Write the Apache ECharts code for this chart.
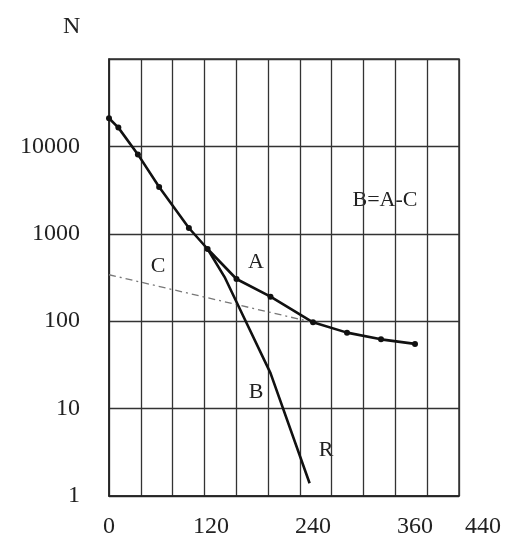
<!DOCTYPE html>
<html>
<head>
<meta charset="utf-8">
<script src="https://cdn.jsdelivr.net/npm/echarts@6/dist/echarts.min.js"></script>
<style>
html,body{margin:0;padding:0;background:#fff;}
#chart{width:509px;height:546px;}
</style>
</head>
<body>
<div id="chart"></div>
<script>
// Curve A (measured total)
const aX = [0, 11, 34, 59, 94, 116, 150, 190, 240, 280, 320, 360];
const aY = [21000, 16400, 8100, 3430, 1165, 670, 304, 191, 97, 74, 62, 55];
// Curve B = A - C
const bX = [116, 136, 160, 190, 236];
const bY = [670, 320, 104, 25.5, 1.4];
// Line C (slow component, dash-dot)
const cX = [0, 240];
const cY = [340, 97];
// Tick labels
const xTickLabels = [0, 120, 240, 360, 440];
const yTickLabels = [1, 10, 100, 1000, 10000];

const serif = '"Liberation Serif", "DejaVu Serif", serif';
const pairs = (xs, ys) => xs.map((x, i) => [x, ys[i]]);

const chart = echarts.init(document.getElementById('chart'));
chart.setOption({
  animation: false,
  backgroundColor: '#ffffff',
  title: {
    text: 'N', left: 58, top: 10,
    textStyle: { fontFamily: serif, fontSize: 24, fontWeight: 'normal', color: '#222' }
  },
  grid: [
    { left: 109, top: 59, width: 350, height: 437, show: true, borderColor: '#333', borderWidth: 1.5, backgroundColor: 'transparent' },
    { left: 109, top: 59, width: 374, height: 437 }
  ],
  xAxis: [
    {
      gridIndex: 0, type: 'value', min: 0, max: 11, interval: 1,
      axisLabel: { show: false }, axisTick: { show: false },
      axisLine: { show: true, lineStyle: { color: '#222', width: 1.5 } },
      splitLine: { show: true, lineStyle: { color: '#333', width: 1.3 } }
    },
    {
      gridIndex: 1, type: 'value', min: 0, max: 440, interval: 40,
      axisLine: { show: false }, axisTick: { show: false }, splitLine: { show: false },
      axisLabel: {
        margin: 19, fontFamily: serif, fontSize: 24, color: '#222', showMaxLabel: true,
        formatter: v => xTickLabels.includes(v) ? String(v) : ''
      }
    }
  ],
  yAxis: [
    {
      gridIndex: 0, type: 'log', logBase: 10, min: 1, max: 100000,
      axisTick: { show: false },
      axisLine: { show: true, lineStyle: { color: '#222', width: 1.5 } },
      splitLine: { show: true, lineStyle: { color: '#333', width: 1.3 } },
      axisLabel: {
        margin: 29, fontFamily: serif, fontSize: 24, color: '#222',
        formatter: v => yTickLabels.includes(Math.round(v)) ? String(Math.round(v)) : ''
      }
    },
    { gridIndex: 1, type: 'log', logBase: 10, min: 1, max: 100000, show: false }
  ],
  series: [
    {
      name: 'C', type: 'line', xAxisIndex: 1, yAxisIndex: 1,
      data: pairs(cX, cY), symbol: 'none',
      lineStyle: { color: '#777', width: 1.3, type: [7, 4, 2, 4] }
    },
    {
      name: 'B', type: 'line', xAxisIndex: 1, yAxisIndex: 1,
      data: pairs(bX, bY), symbol: 'none',
      lineStyle: { color: '#111', width: 2.6 }
    },
    {
      name: 'A', type: 'line', xAxisIndex: 1, yAxisIndex: 1,
      data: pairs(aX, aY), symbol: 'circle', symbolSize: 6,
      itemStyle: { color: '#111' },
      lineStyle: { color: '#111', width: 2.6 }
    }
  ],
  graphic: [
    { type: 'text', style: { text: 'C', x: 158, y: 266, align: 'center', verticalAlign: 'middle', font: '22px ' + serif, fill: '#222' } },
    { type: 'text', style: { text: 'A', x: 256, y: 262, align: 'center', verticalAlign: 'middle', font: '22px ' + serif, fill: '#222' } },
    { type: 'text', style: { text: 'B', x: 256, y: 392, align: 'center', verticalAlign: 'middle', font: '22px ' + serif, fill: '#222' } },
    { type: 'text', style: { text: 'R', x: 326, y: 450, align: 'center', verticalAlign: 'middle', font: '22px ' + serif, fill: '#222' } },
    { type: 'text', style: { text: 'B=A-C', x: 385, y: 200, align: 'center', verticalAlign: 'middle', font: '22px ' + serif, fill: '#222' } }
  ]
});
</script>
</body>
</html>
